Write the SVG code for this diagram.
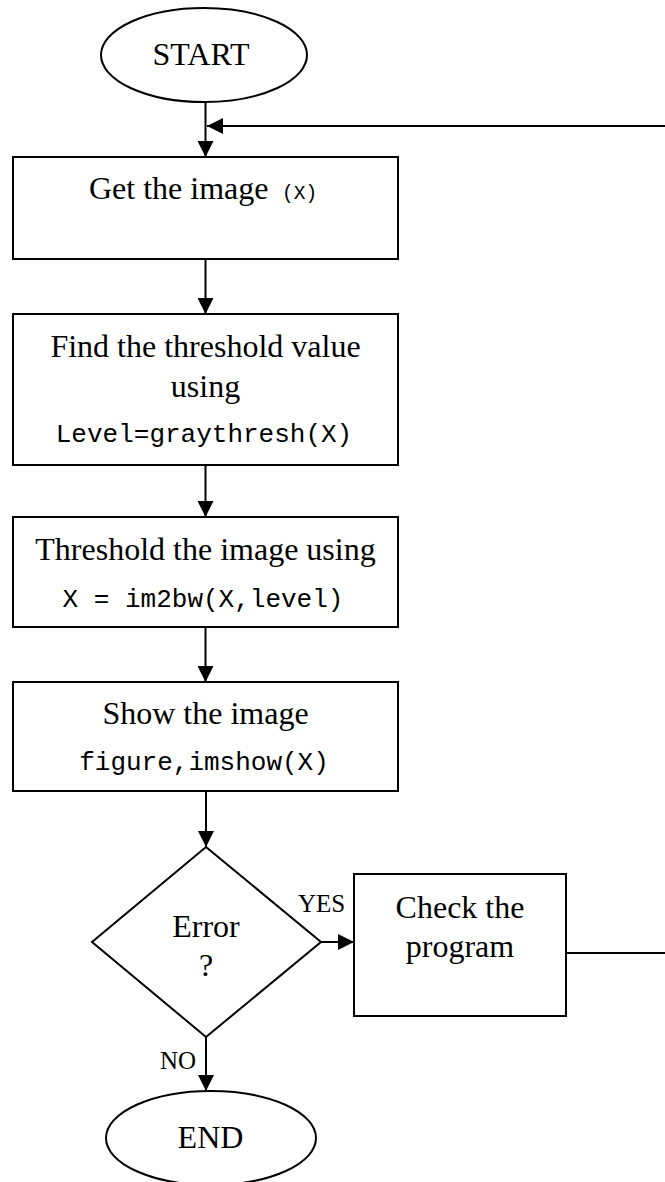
<svg xmlns="http://www.w3.org/2000/svg" width="665" height="1182" viewBox="0 0 665 1182">
<style>
.shape{fill:#fff;stroke:#000;stroke-width:2}
.t{font-family:"Liberation Serif","Times New Roman",serif;font-size:32px;fill:#000}
.lbl{font-family:"Liberation Serif","Times New Roman",serif;font-size:25px;fill:#000}
.code{font-family:"Liberation Mono","Courier New",monospace;font-size:26px;fill:#000}
.mid{text-anchor:middle}
.conn{fill:none;stroke:#000;stroke-width:2}
</style>
<defs>
<marker id="arr" markerUnits="userSpaceOnUse" markerWidth="16" markerHeight="16" viewBox="0 0 15 15" refX="15" refY="7.5" orient="auto">
<path d="M0,0 L15,7.5 L0,15 z" fill="#000"/>
</marker>
</defs>
<rect width="665" height="1182" fill="#fff"/>
<g id="connectors">
<line class="conn" x1="205.5" y1="102" x2="205.5" y2="157" marker-end="url(#arr)"/>
<line class="conn" x1="665" y1="126" x2="207" y2="126" marker-end="url(#arr)"/>
<line class="conn" x1="205.5" y1="259" x2="205.5" y2="314" marker-end="url(#arr)"/>
<line class="conn" x1="205.5" y1="465" x2="205.5" y2="517" marker-end="url(#arr)"/>
<line class="conn" x1="205.5" y1="627" x2="205.5" y2="682" marker-end="url(#arr)"/>
<line class="conn" x1="206" y1="791" x2="206" y2="847" marker-end="url(#arr)"/>
<line class="conn" x1="321" y1="942" x2="354" y2="942" marker-end="url(#arr)"/>
<line class="conn" x1="206" y1="1037" x2="206" y2="1091" marker-end="url(#arr)"/>
<line class="conn" x1="566" y1="953" x2="665" y2="953"/>
<text class="lbl" x="298" y="912">YES</text>
<text class="lbl" x="160" y="1069">NO</text>
</g>
<g id="start">
<ellipse class="shape" cx="204" cy="55" rx="103" ry="47"/>
<text class="t mid" x="201" y="65">START</text>
</g>
<g id="get-image">
<rect class="shape" x="13" y="157" width="385" height="102"/>
<text class="t" x="89" y="199">Get the image<tspan class="code" x="282" style="font-size:19.5px">(X)</tspan></text>
</g>
<g id="find-threshold">
<rect class="shape" x="13" y="314" width="385" height="151"/>
<text class="t mid" x="205.5" y="357">Find the threshold value</text>
<text class="t mid" x="205.5" y="397">using</text>
<text class="code mid" x="204" y="442">Level=graythresh(X)</text>
</g>
<g id="threshold-image">
<rect class="shape" x="13" y="517" width="385" height="110"/>
<text class="t mid" x="205.5" y="560">Threshold the image using</text>
<text class="code mid" x="203" y="607">X = im2bw(X,level)</text>
</g>
<g id="show-image">
<rect class="shape" x="13" y="682" width="385" height="109"/>
<text class="t mid" x="205.5" y="724">Show the image</text>
<text class="code mid" x="204" y="770">figure,imshow(X)</text>
</g>
<g id="error-decision">
<polygon class="shape" points="206,847 321,942 206,1037 92,942"/>
<text class="t mid" x="206" y="937">Error</text>
<text class="t mid" x="206" y="976">?</text>
</g>
<g id="check-program">
<rect class="shape" x="354" y="874" width="212" height="142"/>
<text class="t mid" x="460" y="918">Check the</text>
<text class="t mid" x="460" y="957">program</text>
</g>
<g id="end">
<ellipse class="shape" cx="211" cy="1138" rx="105" ry="47"/>
<text class="t mid" x="210.5" y="1148">END</text>
</g>
</svg>
